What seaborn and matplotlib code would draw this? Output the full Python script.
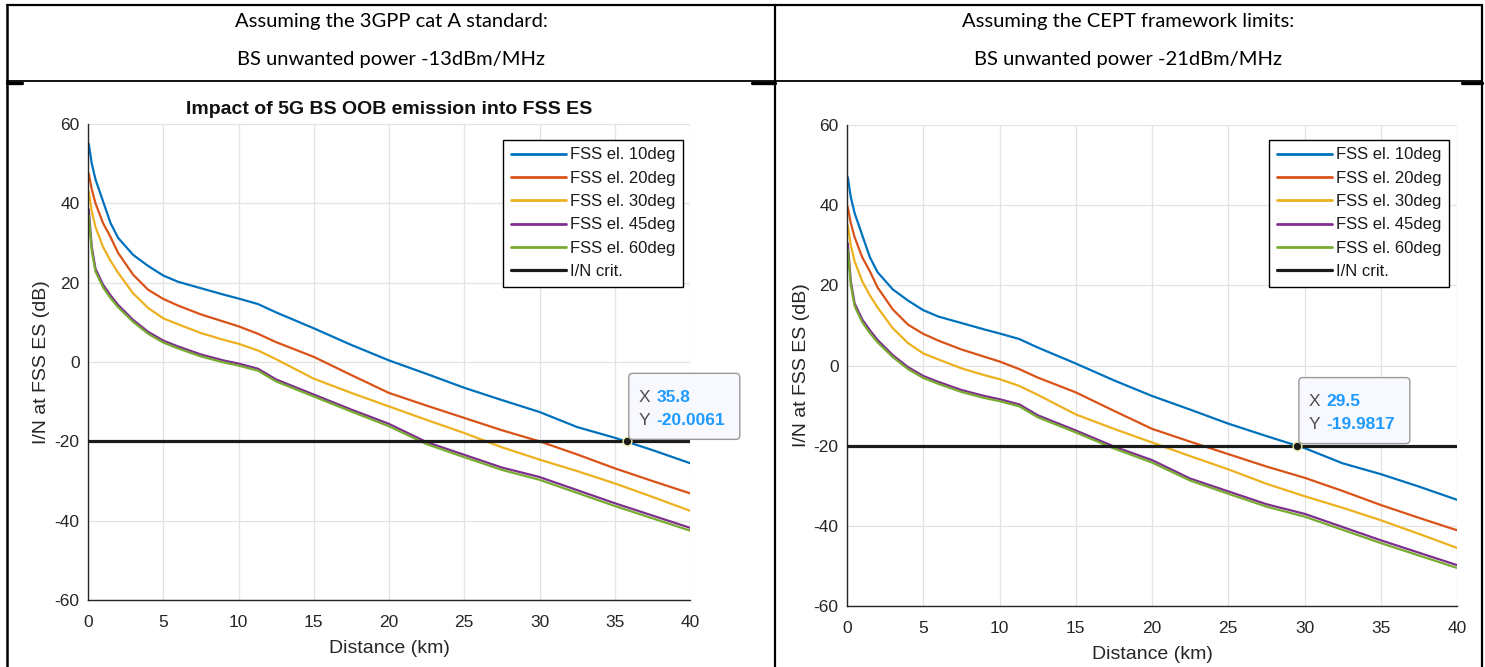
import numpy as np
import pandas as pd
import matplotlib
matplotlib.use("Agg")
import matplotlib.pyplot as plt
import seaborn as sns
from matplotlib.lines import Line2D
from matplotlib.patches import FancyBboxPatch
from matplotlib.transforms import Affine2D

# ---------------- data ----------------
distance = [0.05, 0.25, 0.5, 1, 1.5, 2, 3, 4, 5, 6, 7.5, 9, 10, 11.3, 12.5,
            15, 17.5, 20, 22.5, 25, 27.5, 30, 32.5, 35, 37.5, 40]

series_labels = ["FSS el. 10deg", "FSS el. 20deg", "FSS el. 30deg",
                 "FSS el. 45deg", "FSS el. 60deg"]

# Left panel: 3GPP cat A, -13 dBm/MHz
left_10 = [55, 50, 46, 40.5, 35, 31.3, 27, 24.2, 21.8, 20.2, 18.6, 17, 16, 14.6, 12.5,
           8.5, 4.3, 0.4, -3, -6.5, -9.6, -12.6, -16.4, -19.1, -22.2, -25.5]
left_20 = [47.5, 43.5, 40, 35, 31.5, 27.5, 22, 18.2, 15.9, 14.2, 12, 10.2, 9, 7.1, 5,
           1.3, -3.3, -7.8, -11, -14.1, -17.2, -20, -23.3, -26.8, -30, -33.1]
left_30 = [43, 38, 34, 29, 25.5, 22.5, 17.3, 13.6, 11, 9.5, 7.3, 5.6, 4.6, 2.9, 0.7,
           -4.2, -7.8, -11.2, -14.6, -17.9, -21.5, -24.6, -27.5, -30.6, -34, -37.5]
left_45 = [38.5, 29, 23.5, 19.5, 16.8, 14.4, 10.6, 7.6, 5.4, 3.9, 1.9, 0.4, -0.4, -1.7, -4.4,
           -8.2, -12, -15.6, -20.2, -23.4, -26.6, -29, -32.3, -35.6, -38.7, -41.8]
left_60 = [37, 28, 22.8, 18.8, 16.1, 13.8, 10.1, 7.1, 4.9, 3.4, 1.4, -0.1, -0.9, -2.2, -4.9,
           -8.7, -12.5, -16.2, -20.7, -24, -27.2, -29.7, -33, -36.3, -39.4, -42.5]

# Right panel: CEPT framework, -21 dBm/MHz
right_10 = [47, 42, 38, 32.5, 27, 23.3, 19, 16.2, 13.8, 12.2, 10.6, 9, 8, 6.6, 4.5,
            0.5, -3.7, -7.6, -11, -14.5, -17.6, -20.6, -24.4, -27.1, -30.2, -33.5]
right_20 = [39.5, 35.5, 32, 27, 23.5, 19.5, 14, 10.2, 7.9, 6.2, 4, 2.2, 1, -0.9, -3,
            -6.7, -11.3, -15.8, -19, -22.1, -25.2, -28, -31.3, -34.8, -38, -41.1]
right_30 = [35, 30, 26, 21, 17.5, 14.5, 9.3, 5.6, 3, 1.5, -0.7, -2.4, -3.4, -5.1, -7.3,
            -12.2, -15.8, -19.2, -22.6, -25.9, -29.5, -32.6, -35.5, -38.6, -42, -45.5]
right_45 = [30.5, 21, 15.5, 11.5, 8.8, 6.4, 2.6, -0.4, -2.6, -4.1, -6.1, -7.6, -8.4, -9.7, -12.4,
            -16.2, -20.2, -23.6, -28.2, -31.4, -34.6, -37, -40.3, -43.6, -46.7, -49.8]
right_60 = [29, 20, 14.8, 10.8, 8.1, 5.8, 2.1, -0.9, -3.1, -4.6, -6.6, -8.1, -8.9, -10.2, -12.9,
            -16.7, -20.7, -24.2, -28.7, -32, -35.2, -37.7, -41, -44.3, -47.4, -50.5]

crit_level = -20
crit_label = "I/N crit."

tip_x = [35.8, 29.5]
tip_y = [-20.0061, -19.9817]
tip_xtext = ["35.8", "29.5"]
tip_ytext = ["-20.0061", "-19.9817"]

header_line1 = ["Assuming the 3GPP cat A standard:", "Assuming the CEPT framework limits:"]
header_line2 = ["BS unwanted power -13dBm/MHz", "BS unwanted power -21dBm/MHz"]
plot_title = "Impact of 5G BS OOB emission into FSS ES"
xlabel = "Distance (km)"
ylabel = "I/N at FSS ES (dB)"
xticks = [0, 5, 10, 15, 20, 25, 30, 35, 40]
yticks = [-60, -40, -20, 0, 20, 40, 60]

colors = ["#0072BD", "#D95319", "#EDB120", "#7E2F8E", "#77AC30"]

# ---------------- style ----------------
sns.set_theme(style="white")
plt.rcParams["font.family"] = ["Liberation Sans", "DejaVu Sans"]
plt.rcParams["axes.unicode_minus"] = False

W, H = 1485, 667
fig = plt.figure(figsize=(W / 100, H / 100), dpi=100)
fig.patch.set_facecolor("white")


def fx(x):
    return x / W


def fy(y):
    return 1 - y / H


def build_df(arrs):
    frames = []
    for lab, arr in zip(series_labels, arrs):
        frames.append(pd.DataFrame({"Distance": distance, "IN": arr, "series": lab}))
    return pd.concat(frames, ignore_index=True)


panels = [
    dict(arrs=[left_10, left_20, left_30, left_45, left_60], rect=(88, 124, 690, 600),
         title=True, legend_right=683),
    dict(arrs=[right_10, right_20, right_30, right_45, right_60], rect=(847, 125, 1457, 606),
         title=False, legend_right=1449),
]

axis_col = "#262626"
for i, p in enumerate(panels):
    x0, y0, x1, y1 = p["rect"]
    ax = fig.add_axes([fx(x0), fy(y1), (x1 - x0) / W, (y1 - y0) / H])
    df = build_df(p["arrs"])
    sns.lineplot(data=df, x="Distance", y="IN", hue="series",
                 palette=dict(zip(series_labels, colors)), linewidth=1.6,
                 legend=False, ax=ax, sort=False)
    ax.axhline(crit_level, color="#1a1a1a", lw=2.3, zorder=3)
    ax.set_xlim(0, 40)
    ax.set_ylim(-60, 60)
    ax.set_xticks(xticks)
    ax.set_yticks(yticks)
    ax.grid(True, color="#e3e3e3", lw=0.9)
    ax.set_axisbelow(True)
    for s in ["top", "right"]:
        ax.spines[s].set_visible(False)
    for s in ["left", "bottom"]:
        ax.spines[s].set_color(axis_col)
        ax.spines[s].set_linewidth(1.0)
    ax.tick_params(axis="both", direction="in", length=4, width=0.9, color=axis_col,
                   labelcolor=axis_col, labelsize=12.5)
    ax.tick_params(axis="x", pad=11)
    ax.tick_params(axis="y", pad=6)
    ax.set_xlabel(xlabel, fontsize=14, color=axis_col, labelpad=7)
    ax.set_ylabel(ylabel, fontsize=14, color=axis_col, labelpad=3)
    if p["title"]:
        ax.set_title(plot_title, fontsize=14, fontweight="bold", color="#111111", pad=7)

    # legend
    handles = [Line2D([], [], color=c, lw=2.0) for c in colors]
    handles.append(Line2D([], [], color="#1a1a1a", lw=2.3))
    labels = series_labels + [crit_label]
    lx = p["legend_right"]
    ly = 140
    leg = ax.legend(handles, labels, loc="upper right",
                    bbox_to_anchor=((lx - x0) / (x1 - x0), (y1 - ly) / (y1 - y0)),
                    frameon=True, fancybox=False, edgecolor="black", framealpha=1,
                    fontsize=12, handlelength=3.3, handletextpad=0.25,
                    labelspacing=0.5, borderpad=0.45, borderaxespad=0)
    leg.get_frame().set_linewidth(1.0)
    for t in leg.get_texts():
        t.set_color("#1a1a1a")

    # data tip
    sns.scatterplot(x=[tip_x[i]], y=[tip_y[i]], ax=ax, s=40, color="#1a1a1a",
                    edgecolor="#eeeeaa", linewidth=1.0, zorder=6)
    fig.canvas.draw()
    px, py = ax.transData.transform((tip_x[i], tip_y[i]))
    box = FancyBboxPatch((2, 2), 111, 66, boxstyle="round,pad=0,rounding_size=4",
                         fc="#f8f8ff", ec="#9a9a9a", lw=1.0,
                         transform=Affine2D().translate(px, py), zorder=7, clip_on=False)
    fig.add_artist(box)
    trans = Affine2D().translate(px, py)
    fig.text(12, 44, "X", transform=trans, fontsize=12.5, color="#4d4d4d", va="center", ha="left", zorder=8)
    fig.text(12, 21, "Y", transform=trans, fontsize=12.5, color="#4d4d4d", va="center", ha="left", zorder=8)
    fig.text(29.5, 44, tip_xtext[i], transform=trans, fontsize=12.5, color="#1f9bff",
             fontweight="bold", va="center", ha="left", zorder=8)
    fig.text(29.5, 21, tip_ytext[i], transform=trans, fontsize=12.5, color="#1f9bff",
             fontweight="bold", va="center", ha="left", zorder=8)

# ---------------- table frame & headers ----------------
def hline(y, xa, xb, lw):
    fig.add_artist(Line2D([fx(xa), fx(xb)], [fy(y), fy(y)], color="black", lw=lw,
                          transform=fig.transFigure))


def vline(x, ya, yb, lw):
    fig.add_artist(Line2D([fx(x), fx(x)], [fy(ya), fy(yb)], color="black", lw=lw,
                          transform=fig.transFigure))


hline(5, 7, 1482, 1.6)
hline(81, 7, 1482, 1.3)
hline(82.5, 7, 22, 2.4)
hline(82.5, 752, 775, 2.4)
hline(82.5, 1462, 1482, 2.4)
vline(7, 5, 667, 1.8)
vline(775, 5, 667, 1.6)
vline(1482, 5, 667, 1.6)

for cx, t1, t2 in zip([391, 1128], header_line1, header_line2):
    fig.text(fx(cx), fy(21), t1, ha="center", va="center", fontsize=14.5,
             family=["Lato", "DejaVu Sans"], color="black")
    fig.text(fx(cx), fy(59), t2, ha="center", va="center", fontsize=14.5,
             family=["Lato", "DejaVu Sans"], color="black")

fig.savefig("out.png", dpi=100, facecolor="white")
